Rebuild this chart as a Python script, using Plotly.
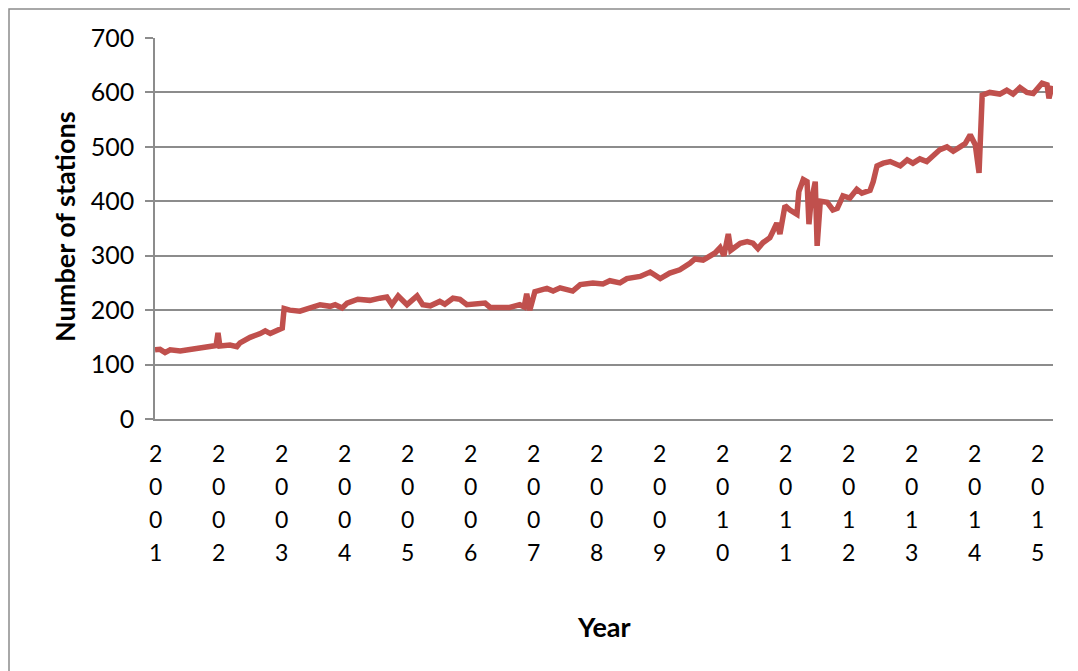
import plotly.graph_objects as go

# ---- data ----
time_years = [
    2001.00, 2001.08, 2001.16, 2001.24, 2001.40, 2001.56, 2001.71, 2001.87, 2001.97, 2002.00,
    2002.03, 2002.19, 2002.30, 2002.35, 2002.51, 2002.67, 2002.75, 2002.83, 2002.95, 2003.02,
    2003.05, 2003.14, 2003.30, 2003.46, 2003.62, 2003.78, 2003.86, 2003.97, 2004.05, 2004.22,
    2004.41, 2004.57, 2004.68, 2004.76, 2004.86, 2005.00, 2005.16, 2005.25, 2005.37, 2005.52,
    2005.60, 2005.73, 2005.84, 2005.95, 2006.11, 2006.24, 2006.32, 2006.48, 2006.63, 2006.79,
    2006.86, 2006.90, 2006.95, 2007.03, 2007.22, 2007.32, 2007.43, 2007.63, 2007.75, 2007.95,
    2008.11, 2008.22, 2008.38, 2008.49, 2008.70, 2008.86, 2009.02, 2009.17, 2009.33, 2009.49,
    2009.57, 2009.70, 2009.81, 2009.89, 2009.97, 2010.03, 2010.10, 2010.14, 2010.29, 2010.40,
    2010.49, 2010.57, 2010.65, 2010.76, 2010.81, 2010.87, 2010.92, 2011.00, 2011.08, 2011.19,
    2011.22, 2011.29, 2011.35, 2011.38, 2011.41, 2011.48, 2011.51, 2011.56, 2011.67, 2011.76,
    2011.83, 2011.92, 2012.03, 2012.14, 2012.22, 2012.35, 2012.40, 2012.46, 2012.56, 2012.67,
    2012.83, 2012.94, 2013.03, 2013.14, 2013.25, 2013.35, 2013.46, 2013.57, 2013.67, 2013.78,
    2013.86, 2013.94, 2014.02, 2014.08, 2014.13, 2014.25, 2014.41, 2014.52, 2014.62, 2014.73,
    2014.84, 2014.94, 2015.00, 2015.08, 2015.16, 2015.19, 2015.24,
]
stations = [
    127, 128, 122, 127, 125, 128, 131, 134, 135, 158,
    134, 136, 133, 140, 150, 157, 162, 157, 163, 167,
    203, 200, 198, 205, 210, 207, 210, 204, 213, 220,
    218, 222, 224, 210, 226, 210, 226, 210, 208, 216,
    211, 222, 220, 210, 211, 213, 205, 204, 205, 210,
    206, 230, 200, 234, 240, 235, 241, 235, 247, 250,
    248, 254, 250, 258, 262, 270, 258, 268, 274, 286,
    294, 292, 300, 305, 315, 300, 340, 310, 323, 326,
    323, 313, 324, 333, 345, 360, 340, 392, 384, 376,
    418, 440, 436, 358, 396, 436, 318, 400, 398, 384,
    387, 410, 406, 422, 415, 420, 436, 465, 470, 473,
    465, 476, 470, 478, 473, 484, 495, 500, 492, 500,
    506, 522, 504, 452, 595, 600, 597, 604, 597, 609,
    600, 598, 606, 617, 614, 589, 612,
]
year_labels = [str(y) for y in range(2001, 2016)]
year_positions = list(range(2001, 2016))
y_ticks = [0, 100, 200, 300, 400, 500, 600, 700]

# ---- geometry (page pixels; the page body adds an 8px offset) ----
OFF = 8
W, H = 1078 - OFF, 671 - OFF
L, R, T, B = 155 - OFF, 1053 - OFF, 38 - OFF, 419 - OFF
def px_x(p):
    return (p - OFF - L) / (R - L)
def px_y(p):
    return (B - (p - OFF)) / (B - T)

FONT = "Lato, Calibri, Carlito, sans-serif"
GRID = "#8c8c8c"

fig = go.Figure()
fig.add_trace(go.Scatter(
    x=time_years, y=stations, mode="lines",
    line=dict(color="#C0504D", width=5.5),
    hoverinfo="x+y", showlegend=False,
))

x0 = 2001
x1 = 2001 + (R - L) / 63.0

fig.update_layout(
    width=W, height=H,
    margin=dict(l=L, r=W - R, t=T, b=H - B),
    paper_bgcolor="white", plot_bgcolor="white",
    font=dict(family=FONT, color="black"),
    xaxis=dict(
        range=[x0, x1], showgrid=False, zeroline=False,
        showline=True, linecolor=GRID, linewidth=1.5,
        showticklabels=False, ticks="",
    ),
    yaxis=dict(
        range=[0, 700], tickvals=y_ticks, showgrid=True,
        gridcolor=GRID, gridwidth=1.5, zeroline=False,
        showline=True, linecolor=GRID, linewidth=1.5,
        ticks="outside", ticklen=8, tickcolor=GRID, tickwidth=1.5,
        tickfont=dict(family=FONT, size=25, color="black"),
        ticklabelstandoff=6,
    ),
)

# vertical-digit year labels (one character per row)
row_py = [453, 486, 519, 552]
for pos, lab in zip(year_positions, year_labels):
    for ch, py in zip(lab, row_py):
        fig.add_annotation(
            x=pos, xref="x", y=px_y(py), yref="paper",
            text=ch, showarrow=False, xanchor="center", yanchor="middle",
            font=dict(family=FONT, size=23, color="black"),
        )

# axis titles
fig.add_annotation(
    x=px_x(604), xref="paper", y=px_y(626), yref="paper",
    text="<b>Year</b>", showarrow=False, xanchor="center", yanchor="middle",
    font=dict(family=FONT, size=27, color="black"),
)
fig.add_annotation(
    x=px_x(64), xref="paper", y=px_y(227), yref="paper",
    text="<b>Number of stations</b>", showarrow=False, textangle=-90,
    xanchor="center", yanchor="middle",
    font=dict(family=FONT, size=27, color="black"),
)

# chart-area border
fig.add_shape(
    type="rect", xref="paper", yref="paper",
    x0=px_x(9), y0=px_y(690), x1=px_x(1100), y1=px_y(9),
    line=dict(color=GRID, width=1.5), fillcolor="rgba(0,0,0,0)", layer="below",
)

fig.write_html("out.html")
